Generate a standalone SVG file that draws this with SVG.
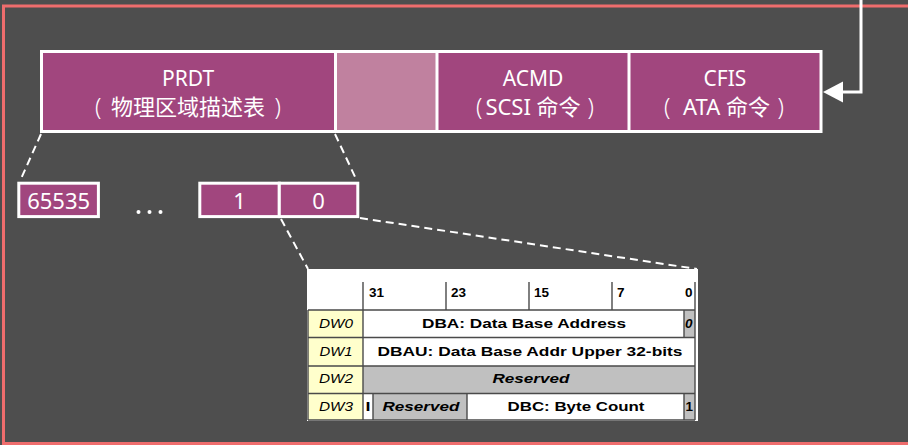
<svg xmlns="http://www.w3.org/2000/svg" width="908" height="445" viewBox="0 0 908 445">
  <defs>
    <style>
      .seg { fill: #a1467e; }
      .seg-light { fill: #c0819f; }
      .frame { fill: none; stroke: #ffffff; stroke-width: 3; }
      .lbl { font-family: "Noto Sans", "Noto Sans CJK SC", sans-serif; fill: #ffffff; text-anchor: middle; }
      .big { font-size: 21px; }
      .cjk { font-size: 22px; }
      .par { font-family: "Noto Sans", sans-serif; font-size: 23px; fill: #ffffff; font-weight: 300; }
      .num { font-size: 22px; }
      .dash { fill: none; stroke: #ffffff; stroke-width: 2; stroke-dasharray: 8 5; }
      .grid { fill: none; stroke: #4a4a4a; stroke-width: 1.4; }
      .tt { font-family: "Liberation Sans", Arial, sans-serif; fill: #000000; font-size: 13.5px; }
      .tb { font-weight: bold; }
      .ti { font-style: italic; }
      .mid { text-anchor: middle; }
      .end { text-anchor: end; }
    </style>
  </defs>

  <!-- background and outer red frame -->
  <rect x="0" y="0" width="908" height="445" fill="#4e4e4e"/>
  <rect x="3.5" y="6" width="920" height="437.5" fill="none" stroke="#ef6d6d" stroke-width="3"/>

  <!-- command table header: four regions -->
  <g id="prdt">
    <rect class="seg" x="42" y="52" width="293" height="80"/>
    <text class="lbl big" x="188" y="86">PRDT</text>
    <text class="par" x="95" y="115">(</text>
    <text class="lbl cjk" x="188" y="115">物理区域描述表</text>
    <text class="par end" x="281" y="115">)</text>
  </g>
  <g id="reserved-area">
    <rect class="seg-light" x="335" y="52" width="102" height="80"/>
  </g>
  <g id="acmd">
    <rect class="seg" x="437" y="52" width="192" height="80"/>
    <text class="lbl big" x="533" y="86">ACMD</text>
    <text class="par" x="476" y="115">(</text>
    <text class="lbl cjk" x="533" y="115">SCSI 命令</text>
    <text class="par end" x="594" y="115">)</text>
  </g>
  <g id="cfis">
    <rect class="seg" x="629" y="52" width="192" height="80"/>
    <text class="lbl big" x="725" y="86">CFIS</text>
    <text class="par" x="664" y="115">(</text>
    <text class="lbl cjk" x="726.5" y="115">ATA 命令</text>
    <text class="par end" x="784" y="115">)</text>
  </g>
  <g id="bar-frame">
    <rect class="frame" x="41.5" y="51.5" width="779.5" height="80"/>
    <line class="frame" x1="335.5" y1="51.5" x2="335.5" y2="131.5"/>
    <line class="frame" x1="437" y1="51.5" x2="437" y2="131.5"/>
    <line class="frame" x1="629" y1="51.5" x2="629" y2="131.5"/>
  </g>

  <!-- PRDT entries -->
  <g id="entry-65535">
    <rect class="frame" x="18.8" y="183.2" width="79.6" height="33.4" style="fill:#a1467e"/>
    <text class="lbl num" x="58.6" y="209">65535</text>
  </g>
  <g id="ellipsis">
    <circle cx="138.5" cy="212" r="2" fill="#ffffff"/>
    <circle cx="149.5" cy="212" r="2" fill="#ffffff"/>
    <circle cx="160.5" cy="212" r="2" fill="#ffffff"/>
  </g>
  <g id="entry-1">
    <rect class="frame" x="199.8" y="183.2" width="79.5" height="33.4" style="fill:#a1467e"/>
    <text class="lbl num" x="239.5" y="209">1</text>
  </g>
  <g id="entry-0">
    <rect class="frame" x="279.3" y="183.2" width="78.5" height="33.4" style="fill:#a1467e"/>
    <text class="lbl num" x="318.5" y="209">0</text>
  </g>

  <!-- connectors -->
  <g id="connectors">
    <line class="dash" x1="41" y1="134" x2="20" y2="181"/>
    <line class="dash" x1="335" y1="134" x2="357" y2="181"/>
    <line class="dash" x1="281" y1="219" x2="308" y2="269"/>
    <line class="dash" x1="360" y1="218" x2="697" y2="269"/>
    <polyline points="861,0 861,92 837,92" fill="none" stroke="#ffffff" stroke-width="3"/>
    <path d="M823,92 L843,81.5 L843,102.5 Z" fill="#ffffff"/>
  </g>

  <!-- PRD entry layout -->
  <g id="prd-table">
    <rect x="307" y="269" width="391" height="152" fill="#ffffff"/>
    <!-- cell fills -->
    <rect x="308" y="310" width="55" height="110" fill="#ffffcc"/>
    <rect x="684" y="310" width="11" height="27.5" fill="#c0c0c0"/>
    <rect x="363" y="366" width="332" height="27.5" fill="#c0c0c0"/>
    <rect x="373" y="393.5" width="94" height="26.5" fill="#c0c0c0"/>
    <rect x="684" y="393.5" width="11" height="26.5" fill="#c0c0c0"/>
    <!-- grid -->
    <path class="grid" d="M363,282 V420 M446,282 V310 M529,282 V310 M612,282 V310 M695,282 V420
                          M308,310 H695 M308,337.5 H695 M308,366 H695 M308,393.5 H695 M308,420 H695
                          M308,310 V420 M684,310 V337.5 M684,393.5 V420 M373,393.5 V420 M467,393.5 V420"/>
    <!-- bit positions -->
    <text class="tt tb" x="369" y="297">31</text>
    <text class="tt tb" x="451" y="297">23</text>
    <text class="tt tb" x="534" y="297">15</text>
    <text class="tt tb" x="617" y="297">7</text>
    <text class="tt tb" x="685" y="297">0</text>
    <!-- row labels -->
    <text class="tt ti mid" x="336" y="328" textLength="34" lengthAdjust="spacingAndGlyphs">DW0</text>
    <text class="tt ti mid" x="336" y="356" textLength="33" lengthAdjust="spacingAndGlyphs">DW1</text>
    <text class="tt ti mid" x="336" y="383" textLength="34" lengthAdjust="spacingAndGlyphs">DW2</text>
    <text class="tt ti mid" x="336" y="411" textLength="34" lengthAdjust="spacingAndGlyphs">DW3</text>
    <!-- fields -->
    <text class="tt tb mid" x="524" y="328" textLength="204" lengthAdjust="spacingAndGlyphs">DBA: Data Base Address</text>
    <text class="tt tb ti" x="685" y="328">0</text>
    <text class="tt tb mid" x="530" y="356" textLength="305" lengthAdjust="spacingAndGlyphs">DBAU: Data Base Addr Upper 32-bits</text>
    <text class="tt tb ti mid" x="531" y="383" textLength="77" lengthAdjust="spacingAndGlyphs">Reserved</text>
    <text class="tt tb" x="365.5" y="411" textLength="5" lengthAdjust="spacingAndGlyphs">I</text>
    <text class="tt tb ti mid" x="421" y="411" textLength="77" lengthAdjust="spacingAndGlyphs">Reserved</text>
    <text class="tt tb mid" x="576" y="411" textLength="137" lengthAdjust="spacingAndGlyphs">DBC: Byte Count</text>
    <text class="tt tb" x="685.5" y="411">1</text>
  </g>
</svg>
